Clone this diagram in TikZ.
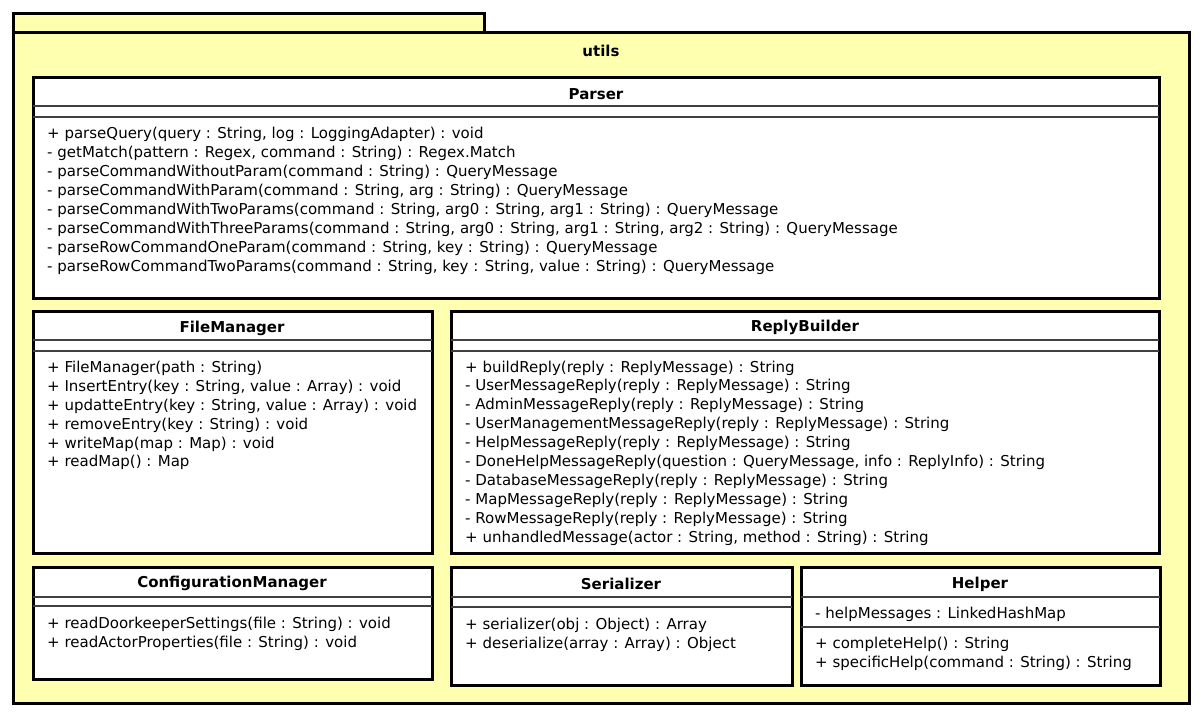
\documentclass[tikz,border=0pt]{standalone}
\usepackage{fontspec}
\setmainfont{DejaVu Sans}
\usetikzlibrary{positioning}
\definecolor{pkgyellow}{RGB}{255,255,176}
\tikzstyle{pkg} = [draw, line width=3pt, fill=pkgyellow]
\tikzstyle{classbox} = [draw, line width=3pt, fill=white]
\tikzstyle{sep} = [line width=1.2pt, black!75]
\tikzstyle{member} = [anchor=west, inner sep=0pt, font=\fontsize{15}{17}\selectfont]
\tikzstyle{classname} = [inner sep=0pt, font=\fontsize{15}{17}\selectfont\bfseries]

\begin{document}
\begin{tikzpicture}[x=1pt,y=-1pt]
\useasboundingbox (0,0) rectangle (1204,717);

% package utils
\draw[pkg] (13,14) rectangle (484,33);
\draw[pkg] (13,33) rectangle (1189,703);
\node[classname] (utils) at (601,51) {utils};

% Parser
\draw[classbox] (33,77) rectangle (1159,298);
\draw[sep] (33,106) -- (1159,106);
\draw[sep] (33,117) -- (1159,117);
\node[classname] (parser) at (596,94) {Parser};
\foreach \m [count=\i] in {
  {+ parseQuery(query : String, log : LoggingAdapter) : void},
  {- getMatch(pattern : Regex, command : String) : Regex.Match},
  {- parseCommandWithoutParam(command : String) : QueryMessage},
  {- parseCommandWithParam(command : String, arg : String) : QueryMessage},
  {- parseCommandWithTwoParams(command : String, arg0 : String, arg1 : String) : QueryMessage},
  {- parseCommandWithThreeParams(command : String, arg0 : String, arg1 : String, arg2 : String) : QueryMessage},
  {- parseRowCommandOneParam(command : String, key : String) : QueryMessage},
  {- parseRowCommandTwoParams(command : String, key : String, value : String) : QueryMessage}}
  \node[member] (parser-\i) at (47,115+19*\i) {\m};

% FileManager
\draw[classbox] (33,311) rectangle (432,553);
\draw[sep] (33,340) -- (432,340);
\draw[sep] (33,351) -- (432,351);
\node[classname] (filemanager) at (232,328) {FileManager};
\foreach \m [count=\i] in {
  {+ FileManager(path : String)},
  {+ InsertEntry(key : String, value : Array) : void},
  {+ updatteEntry(key : String, value : Array) : void},
  {+ removeEntry(key : String) : void},
  {+ writeMap(map : Map) : void},
  {+ readMap() : Map}}
  \node[member] (filemanager-\i) at (47,350+18.8*\i) {\m};

% ReplyBuilder
\draw[classbox] (451,311) rectangle (1159,553);
\draw[sep] (451,340) -- (1159,340);
\draw[sep] (451,351) -- (1159,351);
\node[classname] (replybuilder) at (805,327) {ReplyBuilder};
\foreach \m [count=\i] in {
  {+ buildReply(reply : ReplyMessage) : String},
  {- UserMessageReply(reply : ReplyMessage) : String},
  {- AdminMessageReply(reply : ReplyMessage) : String},
  {- UserManagementMessageReply(reply : ReplyMessage) : String},
  {- HelpMessageReply(reply : ReplyMessage) : String},
  {- DoneHelpMessageReply(question : QueryMessage, info : ReplyInfo) : String},
  {- DatabaseMessageReply(reply : ReplyMessage) : String},
  {- MapMessageReply(reply : ReplyMessage) : String},
  {- RowMessageReply(reply : ReplyMessage) : String},
  {+ unhandledMessage(actor : String, method : String) : String}}
  \node[member] (replybuilder-\i) at (465,349+18.9*\i) {\m};

% ConfigurationManager
\draw[classbox] (33,567) rectangle (432,679);
\draw[sep] (33,597) -- (432,597);
\draw[sep] (33,606) -- (432,606);
\node[classname] (configmanager) at (232,583) {ConfigurationManager};
\node[member] (configmanager-1) at (47,624) {+ readDoorkeeperSettings(file : String) : void};
\node[member] (configmanager-2) at (47,643) {+ readActorProperties(file : String) : void};

% Serializer
\draw[classbox] (451,567) rectangle (792,685);
\draw[sep] (451,597) -- (792,597);
\draw[sep] (451,607) -- (792,607);
\node[classname] (serializer) at (621,584) {Serializer};
\node[member] (serializer-1) at (465,625) {+ serializer(obj : Object) : Array};
\node[member] (serializer-2) at (465,644) {+ deserialize(array : Array) : Object};

% Helper
\draw[classbox] (801,567) rectangle (1160,685);
\draw[sep] (801,597) -- (1160,597);
\draw[sep] (801,627) -- (1160,627);
\node[classname] (helper) at (980,584) {Helper};
\node[member] (helper-a) at (815,614) {- helpMessages : LinkedHashMap};
\node[member] (helper-1) at (815,644) {+ completeHelp() : String};
\node[member] (helper-2) at (815,663) {+ specificHelp(command : String) : String};
\end{tikzpicture}
\end{document}
